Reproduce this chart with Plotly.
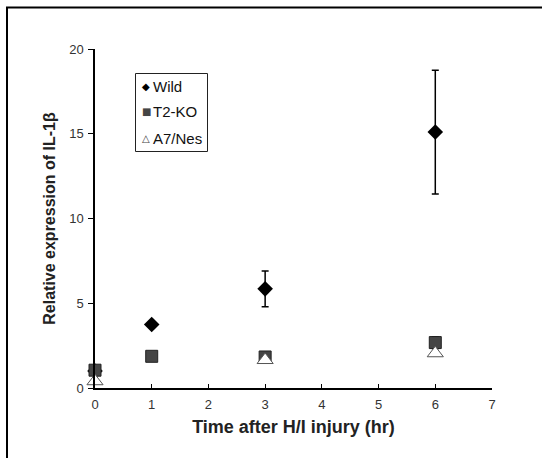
import plotly.graph_objects as go

# ---- data ----
time_hr = [0, 1, 3, 6]
wild = [1.0, 3.75, 5.85, 15.1]
wild_err = [0.0, 0.0, 1.05, 3.65]
t2ko = [1.05, 1.87, 1.83, 2.68]
t2ko_err = [0.0, 0.0, 0.0, 0.35]
a7nes = [0.4, 1.65, 2.05]
a7nes_time = [0, 3, 6]

series_names = ["Wild", "T2-KO", "A7/Nes"]
legend_symbols = ["◆", "■", "△"]
legend_symbol_colors = ["#000000", "#454545", "#444444"]

x_ticks = [0, 1, 2, 3, 4, 5, 6, 7]
y_ticks = [0, 5, 10, 15, 20]

FONT = "Arial, Liberation Sans, sans-serif"

fig = go.Figure()

fig.add_trace(go.Scatter(
    x=time_hr, y=wild, mode="markers", name=series_names[0],
    marker=dict(symbol="diamond", size=12, color="black", line=dict(width=0)),
    error_y=dict(type="data", array=wild_err, visible=True, color="black",
                 thickness=1.5, width=3.5),
    cliponaxis=False,
))
fig.add_trace(go.Scatter(
    x=time_hr, y=t2ko, mode="markers", name=series_names[1],
    marker=dict(symbol="square", size=12, color="#454545",
                line=dict(width=1, color="#222222")),
    error_y=dict(type="data", array=t2ko_err, visible=True, color="black",
                 thickness=1.5, width=3.5),
    cliponaxis=False,
))
fig.add_trace(go.Scatter(
    x=a7nes_time, y=a7nes, mode="markers", name=series_names[2],
    marker=dict(symbol="triangle-up", size=14, color="white",
                line=dict(width=1, color="#555555")),
    cliponaxis=False,
))

# geometry (page pixels)
W, H = 542, 458
L, R, T, B = 95, 50, 49, 70
pw, ph = W - L - R, H - T - B


def px_x(p):
    return (p - L) / pw


def px_y(p):
    return (H - B - p) / ph


# outer frame
fig.add_shape(type="rect", xref="paper", yref="paper",
              x0=px_x(7), x1=px_x(560), y0=px_y(7.5), y1=px_y(470),
              line=dict(color="black", width=2), fillcolor="rgba(0,0,0,0)",
              layer="below")

# legend box
fig.add_shape(type="rect", xref="paper", yref="paper",
              x0=px_x(135.5), x1=px_x(207.5), y0=px_y(73.5), y1=px_y(151.5),
              line=dict(color="#222222", width=1), fillcolor="white",
              layer="below")

legend_rows = [86, 112, 138]
for name, sym, col, row in zip(series_names, legend_symbols,
                               legend_symbol_colors, legend_rows):
    fig.add_annotation(xref="paper", yref="paper", x=px_x(146), y=px_y(row),
                       text=sym, showarrow=False, xanchor="center",
                       yanchor="middle",
                       font=dict(family="DejaVu Sans", size=10, color=col))
    fig.add_annotation(xref="paper", yref="paper", x=px_x(151), y=px_y(row),
                       text=name, showarrow=False, xanchor="left",
                       yanchor="middle",
                       font=dict(family=FONT, size=15, color="#111111"))

fig.update_layout(
    width=W, height=H,
    margin=dict(l=L, r=R, t=T, b=B, autoexpand=False),
    paper_bgcolor="white", plot_bgcolor="white",
    font=dict(family=FONT, color="#222222"),
    showlegend=False,
    xaxis=dict(
        range=[0, 7], tickvals=x_ticks, ticktext=[str(v) for v in x_ticks],
        showgrid=False, zeroline=False, showline=True, linecolor="black",
        linewidth=1.5, ticks="inside", ticklen=4, tickcolor="black",
        tickfont=dict(size=13, color="#333333"), ticklabelstandoff=4,
        title=dict(text="<b>Time after H/I injury (hr)</b>",
                   font=dict(size=18, color="#222222"), standoff=9),
        automargin=False,
    ),
    yaxis=dict(
        range=[0, 20], tickvals=y_ticks, ticktext=[str(v) for v in y_ticks],
        showgrid=False, zeroline=False, showline=True, linecolor="black",
        linewidth=1.5, ticks="outside", ticklen=5, tickcolor="black",
        tickfont=dict(size=13, color="#333333"), ticklabelstandoff=2,
        title=dict(text="<b>Relative expression of IL-1β</b>",
                   font=dict(size=16, color="#222222"), standoff=10),
        automargin=False,
    ),
)

fig.write_html(
    "out.html",
    config={"displayModeBar": False},
    post_script="document.body.style.margin='0px';"
                "document.body.style.overflow='hidden';",
)
